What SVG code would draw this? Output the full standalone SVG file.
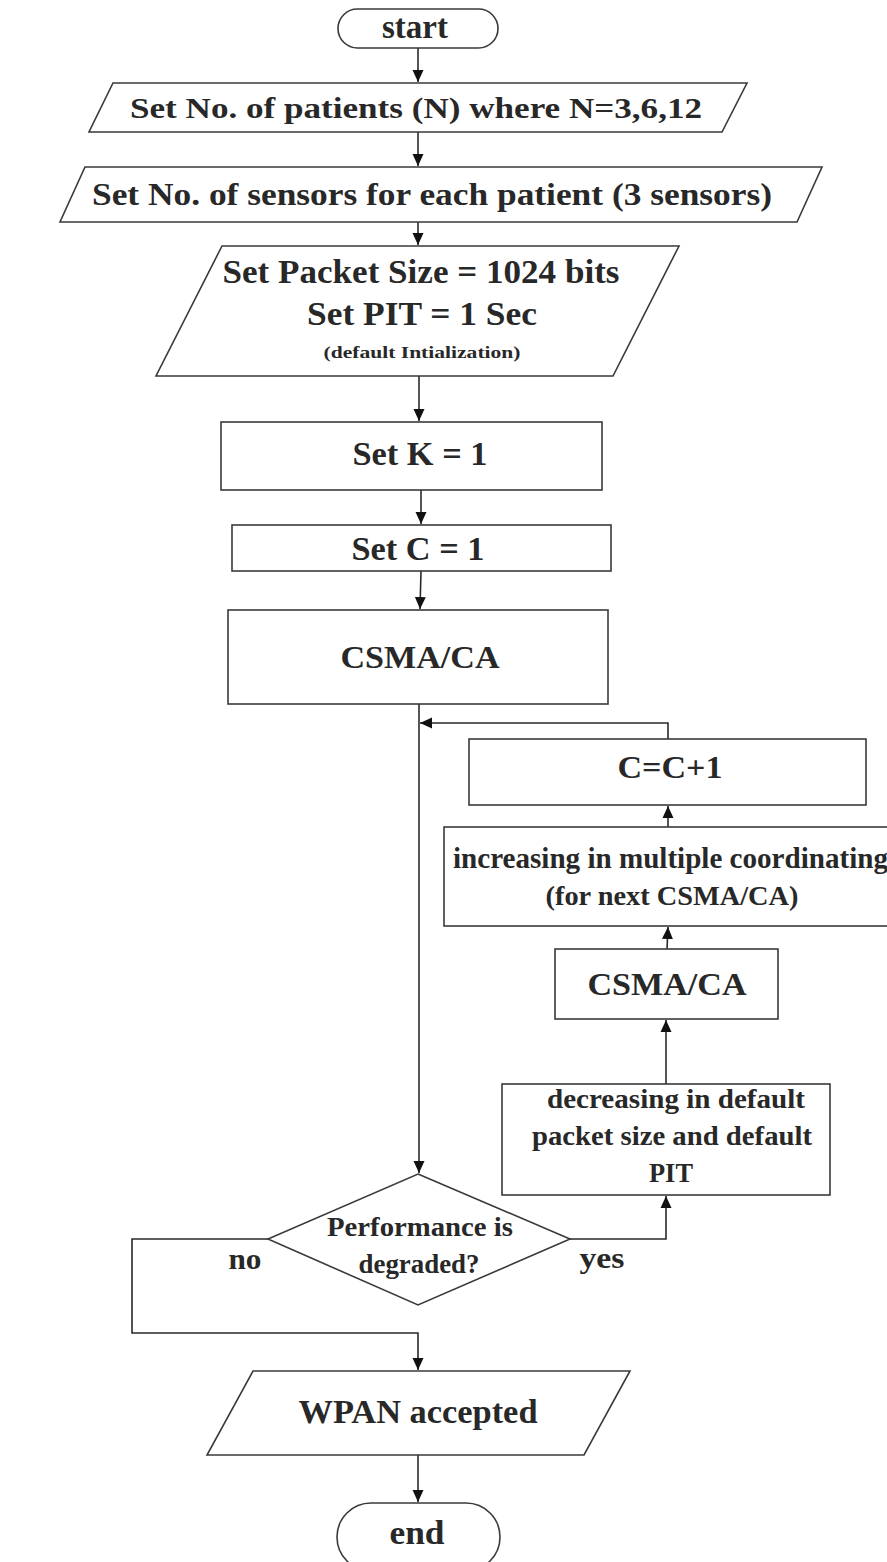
<svg xmlns="http://www.w3.org/2000/svg" width="887" height="1562" viewBox="0 0 887 1562">
<defs>
<style>
.s{fill:#fff;stroke:#3a3a3a;stroke-width:1.6}
.c{fill:none;stroke:#2a2a2a;stroke-width:1.6}
text{font-family:"Liberation Serif","Times New Roman",serif;font-weight:bold;fill:#282828;text-anchor:middle}
</style>
<marker id="ah" markerUnits="userSpaceOnUse" markerWidth="12" markerHeight="12" refX="12" refY="6" orient="auto">
<path d="M0,0.5 L12,6 L0,11.5 z" fill="#111"/>
</marker>
</defs>
<rect width="887" height="1562" fill="#fff"/>
<g id="connectors">
<path class="c" d="M418,48 V82" marker-end="url(#ah)"/>
<path class="c" d="M418,132 V166" marker-end="url(#ah)"/>
<path class="c" d="M418,222 V245" marker-end="url(#ah)"/>
<path class="c" d="M419,376 V421" marker-end="url(#ah)"/>
<path class="c" d="M421,490 V524" marker-end="url(#ah)"/>
<path class="c" d="M421,571 L420,609" marker-end="url(#ah)"/>
<path class="c" d="M419,704 V1173" marker-end="url(#ah)"/>
<path class="c" d="M668,739 V723 H420" marker-end="url(#ah)"/>
<path class="c" d="M668,827 V806" marker-end="url(#ah)"/>
<path class="c" d="M667,949 L668,927" marker-end="url(#ah)"/>
<path class="c" d="M666,1084 V1020" marker-end="url(#ah)"/>
<path class="c" d="M570,1239 H666 V1196" marker-end="url(#ah)"/>
<path class="c" d="M268,1239 H132 V1333 H418 V1370" marker-end="url(#ah)"/>
<path class="c" d="M418,1455 V1502" marker-end="url(#ah)"/>
</g>
<g id="start">
<rect class="s" x="338" y="9" width="160" height="39" rx="19.5"/>
<text x="415" y="38" font-size="33" textLength="66" lengthAdjust="spacingAndGlyphs">start</text>
</g>
<g id="patients">
<polygon class="s" points="113,83 747,83 722,132 89,132"/>
<text x="416" y="118" font-size="30" textLength="572" lengthAdjust="spacingAndGlyphs">Set No. of patients (N) where N=3,6,12</text>
</g>
<g id="sensors">
<polygon class="s" points="85,167 822,167 797,222 60,222"/>
<text x="432" y="205" font-size="32" textLength="680" lengthAdjust="spacingAndGlyphs">Set No. of sensors for each patient (3 sensors)</text>
</g>
<g id="packet">
<polygon class="s" points="222,246 679,246 613,376 156,376"/>
<text x="421" y="283" font-size="33" textLength="397" lengthAdjust="spacingAndGlyphs">Set Packet Size = 1024 bits</text>
<text x="422" y="325" font-size="33" textLength="230" lengthAdjust="spacingAndGlyphs">Set PIT = 1 Sec</text>
<text x="422" y="358" font-size="17" textLength="197" lengthAdjust="spacingAndGlyphs">(default Intialization)</text>
</g>
<g id="setk">
<rect class="s" x="221" y="422" width="381" height="68"/>
<text x="420" y="465" font-size="33" textLength="135" lengthAdjust="spacingAndGlyphs">Set K = 1</text>
</g>
<g id="setc">
<rect class="s" x="232" y="525" width="379" height="46"/>
<text x="418" y="560" font-size="33" textLength="133" lengthAdjust="spacingAndGlyphs">Set C = 1</text>
</g>
<g id="csma1">
<rect class="s" x="228" y="610" width="380" height="94"/>
<text x="420" y="668" font-size="32" textLength="159" lengthAdjust="spacingAndGlyphs">CSMA/CA</text>
</g>
<g id="cinc">
<rect class="s" x="469" y="739" width="397" height="66"/>
<text x="670" y="778" font-size="31" textLength="105" lengthAdjust="spacingAndGlyphs">C=C+1</text>
</g>
<g id="increasing">
<rect class="s" x="444" y="827" width="460" height="99"/>
<text x="453" y="868" font-size="29" textLength="435" lengthAdjust="spacingAndGlyphs" style="text-anchor:start">increasing in multiple coordinating</text>
<text x="672" y="905" font-size="28" textLength="253" lengthAdjust="spacingAndGlyphs">(for next CSMA/CA)</text>
</g>
<g id="csma2">
<rect class="s" x="555" y="949" width="223" height="70"/>
<text x="667" y="995" font-size="32" textLength="159" lengthAdjust="spacingAndGlyphs">CSMA/CA</text>
</g>
<g id="decreasing">
<rect class="s" x="502" y="1084" width="328" height="111"/>
<text x="676" y="1108" font-size="28" textLength="258" lengthAdjust="spacingAndGlyphs">decreasing in default</text>
<text x="672" y="1145" font-size="28" textLength="280" lengthAdjust="spacingAndGlyphs">packet size and default</text>
<text x="671" y="1182" font-size="28" textLength="44" lengthAdjust="spacingAndGlyphs">PIT</text>
</g>
<g id="decision">
<polygon class="s" points="418,1174 570,1239 418,1305 268,1239"/>
<text x="420" y="1236" font-size="28" textLength="186" lengthAdjust="spacingAndGlyphs">Performance is</text>
<text x="419" y="1273" font-size="28" textLength="121" lengthAdjust="spacingAndGlyphs">degraded?</text>
</g>
<g id="labels">
<text x="245" y="1269" font-size="29" textLength="33" lengthAdjust="spacingAndGlyphs">no</text>
<text x="602" y="1268" font-size="29" textLength="45" lengthAdjust="spacingAndGlyphs">yes</text>
</g>
<g id="wpan">
<polygon class="s" points="253,1371 630,1371 584,1455 207,1455"/>
<text x="418" y="1423" font-size="33" textLength="239" lengthAdjust="spacingAndGlyphs">WPAN accepted</text>
</g>
<g id="end">
<rect class="s" x="337" y="1503" width="163" height="68" rx="34"/>
<text x="417" y="1544" font-size="33" textLength="55" lengthAdjust="spacingAndGlyphs">end</text>
</g>
</svg>
